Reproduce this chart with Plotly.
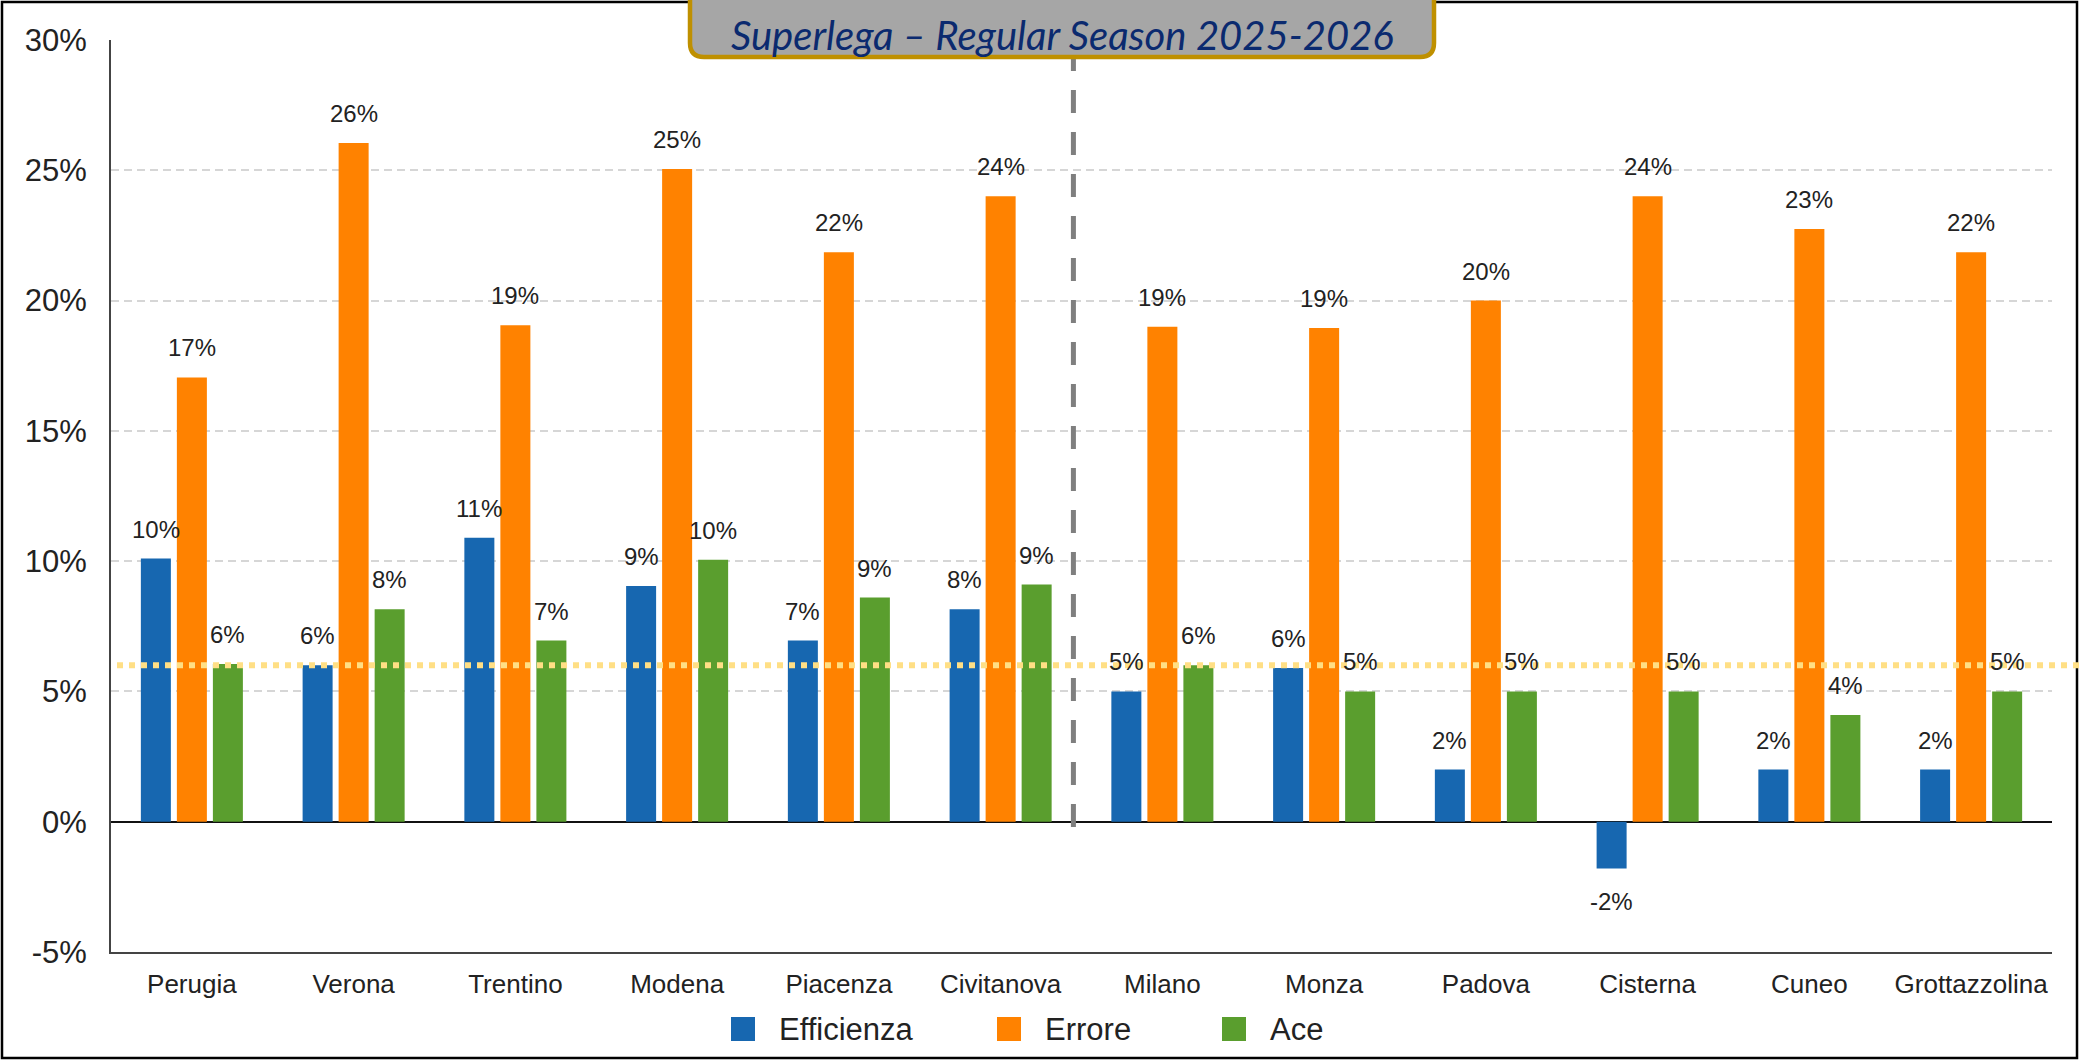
import plotly.graph_objects as go

# ---------------- data ----------------
teams = ["Perugia", "Verona", "Trentino", "Modena", "Piacenza", "Civitanova",
         "Milano", "Monza", "Padova", "Cisterna", "Cuneo", "Grottazzolina"]
efficienza = [10.1, 6.0, 10.9, 9.05, 6.95, 8.15, 5.0, 5.9, 2.0, -1.8, 2.0, 2.0]
errore = [17.05, 26.05, 19.05, 25.05, 21.85, 24.0, 19.0, 18.95, 20.0, 24.0, 22.75, 21.85]
ace = [6.05, 8.15, 6.95, 10.05, 8.6, 9.1, 6.0, 5.0, 5.0, 5.0, 4.1, 5.0]
series_names = ["Efficienza", "Errore", "Ace"]
series_colors = ["#1767B0", "#FF8200", "#5A9E2E"]
reference_level = 6.0          # dotted yellow line
split_after_index = 5.45       # dashed separator (between Civitanova and Milano)
y_ticks = [-5, 0, 5, 10, 15, 20, 25, 30]
title_text = "Superlega – Regular Season 2025-2026"

# ---------------- geometry ----------------
W, H = 2079, 1060
L, R, T, B = 111, 27, 40, 108
PW, PH = W - L - R, H - T - B
BARGAP = 0.332
BARGROUPGAP = 0.167


def px(x):
    return (x - L) / PW


def py(y):
    return (H - B - y) / PH


FONT = "Liberation Sans, Arial, sans-serif"

fig = go.Figure()
all_series = [efficienza, errore, ace]
for name, vals, col in zip(series_names, all_series, series_colors):
    fig.add_trace(go.Bar(
        name=name, x=teams, y=vals, marker=dict(color=col, line=dict(width=0)),
        showlegend=False,
    ))

# value labels above / below each bar
n_series = len(all_series)
slot = (1 - BARGAP) / n_series
annotations = []
for j, vals in enumerate(all_series):
    for i, v in enumerate(vals):
        xpos = i + (j - (n_series - 1) / 2) * slot
        annotations.append(dict(
            x=xpos, y=v, xref="x", yref="y",
            text=f"{round(v):.0f}%", showarrow=False,
            font=dict(family=FONT, size=24, color="#222222"),
            yanchor="bottom" if v >= 0 else "top",
            yshift=14 if v >= 0 else -17,
        ))

# title
annotations.append(dict(
    x=px(1062), y=py(35), xref="paper", yref="paper", text=title_text,
    showarrow=False, xanchor="center", yanchor="middle",
    font=dict(family="Lato, Open Sans, sans-serif", size=40, color="#0B2A6F", style="italic"),
))

shapes = []
# outer frame
shapes.append(dict(type="rect", xref="paper", yref="paper",
                   x0=px(2), x1=px(W - 2), y0=py(H - 2), y1=py(2),
                   line=dict(color="#000000", width=2.5), fillcolor="rgba(0,0,0,0)", layer="above"))
# dashed separator
shapes.append(dict(type="line", xref="x", yref="y",
                   x0=split_after_index, x1=split_after_index, y0=-0.2, y1=30.5,
                   line=dict(color="#7F7F7F", width=5, dash="23px,19px"), layer="above"))
# dotted reference line
shapes.append(dict(type="line", xref="paper", yref="y",
                   x0=px(117), x1=px(W + 5), y0=reference_level, y1=reference_level,
                   line=dict(color="#FFDF85", width=6, dash="6px,6px"), layer="above"))
# title box (rounded bottom corners, runs off the top edge)
bx0, bx1, byt, byb, rr = 690, 1434, -20, 57, 14
path = (f"M {px(bx0)},{py(byt)} L {px(bx0)},{py(byb - rr)} "
        f"Q {px(bx0)},{py(byb)} {px(bx0 + rr)},{py(byb)} "
        f"L {px(bx1 - rr)},{py(byb)} Q {px(bx1)},{py(byb)} {px(bx1)},{py(byb - rr)} "
        f"L {px(bx1)},{py(byt)} Z")
shapes.append(dict(type="path", xref="paper", yref="paper", path=path,
                   fillcolor="#A6A6A6", line=dict(color="#BF9000", width=4.5), layer="above"))

# custom legend (large square swatches)
legend_items = [(731, 777), (997, 1043), (1222, 1268)]
legend_y = 1029
for (sx, tx), name, col in zip(legend_items, series_names, series_colors):
    shapes.append(dict(type="rect", xref="paper", yref="paper",
                       x0=px(sx), x1=px(sx + 24), y0=py(legend_y + 12), y1=py(legend_y - 12),
                       fillcolor=col, line=dict(width=0), layer="above"))
    annotations.append(dict(x=px(tx), y=py(legend_y), xref="paper", yref="paper",
                            text=name, showarrow=False, xanchor="left", yanchor="middle",
                            font=dict(family=FONT, size=31, color="#222222")))

fig.update_layout(
    width=W, height=H,
    margin=dict(l=L, r=R, t=T, b=B, pad=0),
    paper_bgcolor="white", plot_bgcolor="white",
    barmode="group", bargap=BARGAP, bargroupgap=BARGROUPGAP,
    shapes=shapes, annotations=annotations,
    showlegend=False,
)
fig.update_xaxes(
    type="category", showgrid=False, showline=True, linecolor="#444444", linewidth=2,
    ticks="", tickfont=dict(family=FONT, size=26, color="#222222"),
    ticklabelstandoff=8, fixedrange=True,
)
fig.update_yaxes(
    range=[-5, 30], tickvals=y_ticks, ticktext=[f"{t}%" for t in y_ticks],
    showgrid=True, gridcolor="#D6D6D6", gridwidth=1.5, griddash="8px,5px",
    zeroline=True, zerolinecolor="#111111", zerolinewidth=2,
    showline=True, linecolor="#444444", linewidth=2,
    ticks="", tickfont=dict(family=FONT, size=31, color="#222222"),
    ticklabelstandoff=16, fixedrange=True,
)

fig.write_html(
    "out.html",
    config={"displayModeBar": False},
    post_script="document.body.style.margin='0';document.body.style.overflow='hidden';",
)
